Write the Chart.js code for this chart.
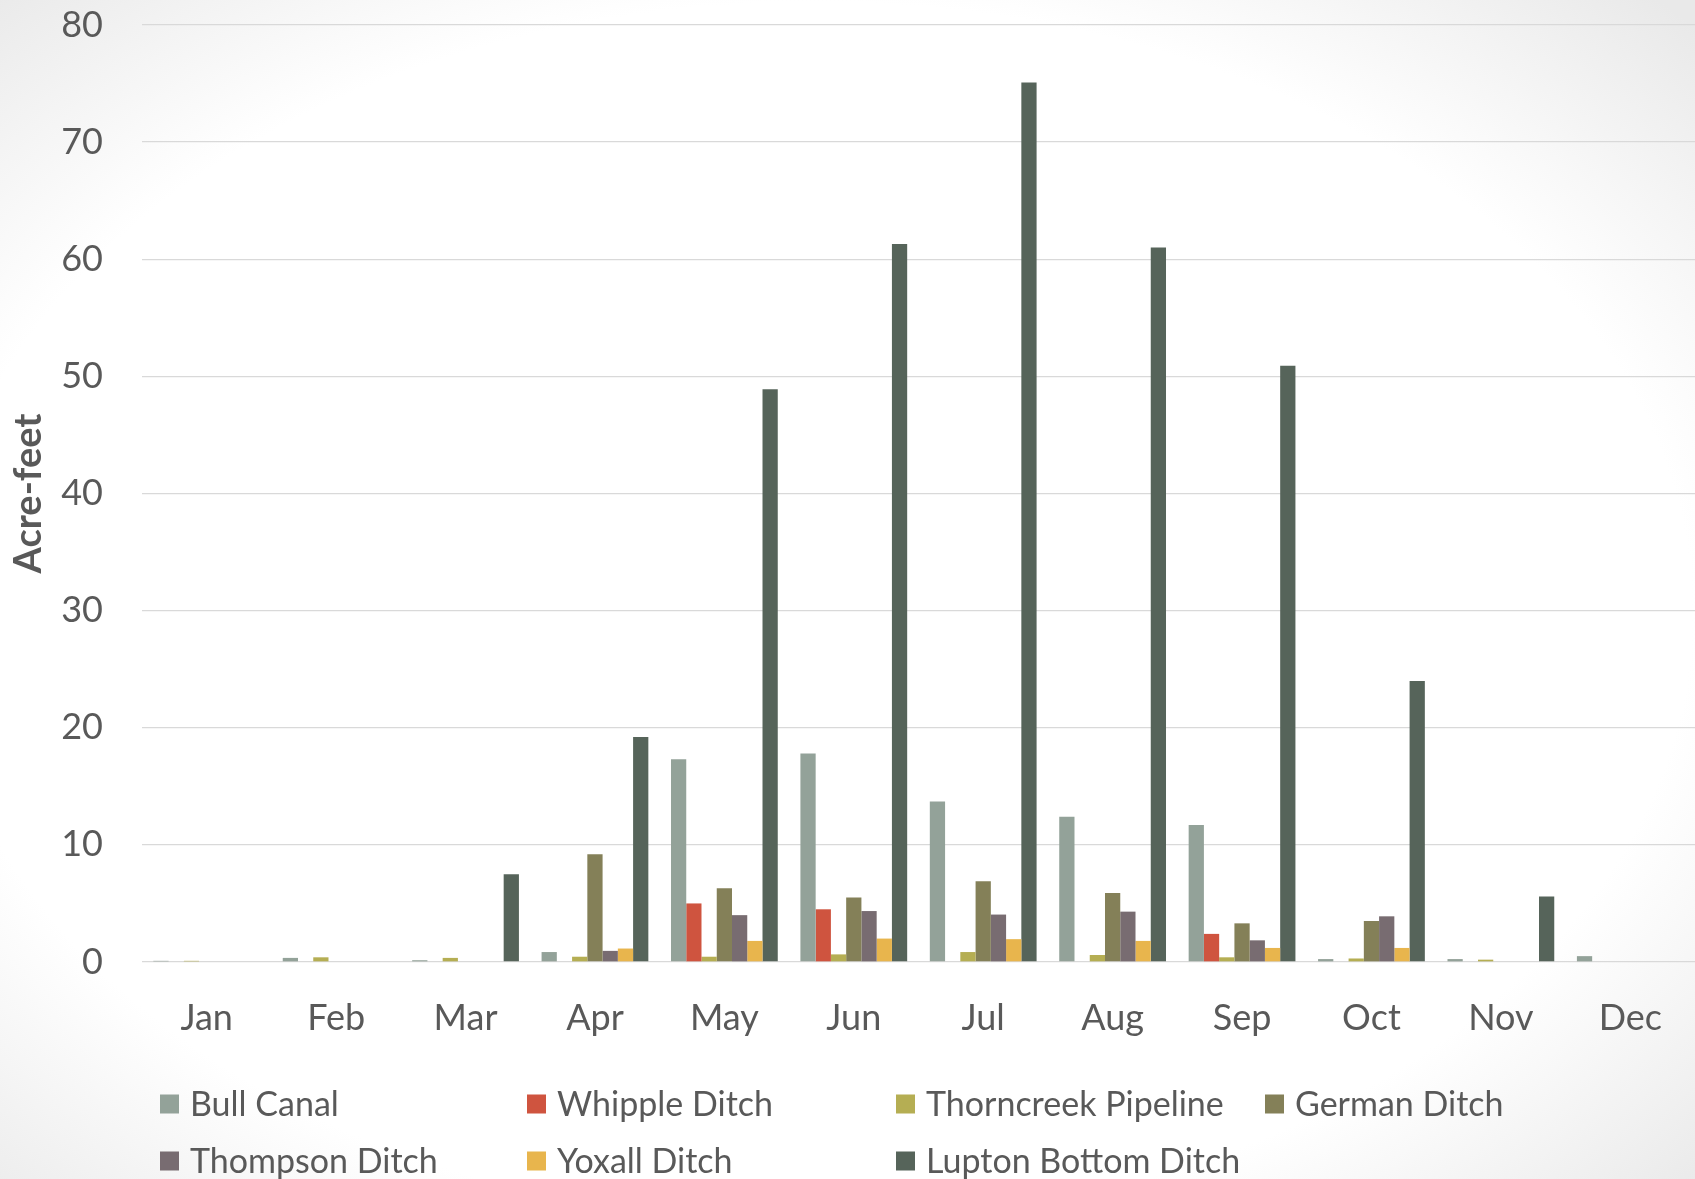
<!DOCTYPE html>
<html>
<head>
<meta charset="utf-8">
<title>Monthly diversions by ditch</title>
<script src="https://cdn.jsdelivr.net/npm/chart.js@4.4.1/dist/chart.umd.min.js"></script>
<style>
  html, body { margin: 0; padding: 0; }
  body {
    width: 1695px; height: 1179px; overflow: hidden;
    background: radial-gradient(ellipse 72% 72% at 48% 52%, #ffffff 72%, #e9e9e9 100%);
  }
  #wrap { position: relative; width: 1695px; height: 1179px; }
  canvas { display: block; }
</style>
</head>
<body>
<div id="wrap"><canvas id="chart" width="1695" height="1179"></canvas></div>
<script>
// Months on the category axis
const months = ['Jan', 'Feb', 'Mar', 'Apr', 'May', 'Jun', 'Jul', 'Aug', 'Sep', 'Oct', 'Nov', 'Dec'];

// Monthly volume per ditch, acre-feet
const bullCanal         = [0.1, 0.35, 0.15, 0.85, 17.3, 17.8, 13.7, 12.4, 11.7, 0.25, 0.25, 0.5];
const whippleDitch      = [0, 0, 0, 0, 5.0, 4.5, 0, 0, 2.4, 0, 0, 0];
const thorncreekPipeline= [0.1, 0.4, 0.35, 0.45, 0.45, 0.65, 0.85, 0.6, 0.4, 0.3, 0.2, 0];
const germanDitch       = [0, 0, 0, 9.2, 6.3, 5.5, 6.9, 5.9, 3.3, 3.5, 0, 0];
const thompsonDitch     = [0, 0, 0, 0.95, 4.0, 4.35, 4.05, 4.3, 1.85, 3.9, 0, 0];
const yoxallDitch       = [0, 0, 0, 1.15, 1.8, 2.0, 1.95, 1.8, 1.2, 1.2, 0, 0];
const luptonBottomDitch = [0, 0, 7.5, 19.2, 48.9, 61.3, 75.1, 61.0, 50.9, 24.0, 5.6, 0];

// Value axis ticks
const yTicks = [0, 10, 20, 30, 40, 50, 60, 70, 80];

const seriesNames = ['Bull Canal', 'Whipple Ditch', 'Thorncreek Pipeline', 'German Ditch',
                     'Thompson Ditch', 'Yoxall Ditch', 'Lupton Bottom Ditch'];
const seriesData = [bullCanal, whippleDitch, thorncreekPipeline, germanDitch,
                    thompsonDitch, yoxallDitch, luptonBottomDitch];
const seriesColors = ['#93a299', '#cf543f', '#b5ae53', '#848058', '#786c71', '#e8b54d', '#56645a'];

const FONT = "Lato, 'Open Sans', 'DejaVu Sans', sans-serif";
const TEXT_COLOR = '#595959';

// Legend laid out in fixed columns below the plot
const legendGrid = {
  columns: [160, 527, 896, 1265],
  rows: [1104, 1161],
  box: 19,
  gap: 11,
  fontSize: 34
};

const columnLegend = {
  id: 'columnLegend',
  afterDraw(chart) {
    const ctx = chart.ctx;
    const g = legendGrid;
    ctx.save();
    ctx.font = g.fontSize + 'px ' + FONT;
    ctx.textBaseline = 'middle';
    ctx.textAlign = 'left';
    chart.data.datasets.forEach((ds, i) => {
      const col = i % g.columns.length;
      const row = Math.floor(i / g.columns.length);
      const x = g.columns[col];
      const y = g.rows[row];
      ctx.fillStyle = ds.backgroundColor;
      ctx.fillRect(x, y - g.box / 2, g.box, g.box);
      ctx.fillStyle = TEXT_COLOR;
      ctx.fillText(ds.label, x + g.box + g.gap, y + 1);
    });
    ctx.restore();
  }
};

new Chart(document.getElementById('chart'), {
  type: 'bar',
  data: {
    labels: months,
    datasets: seriesNames.map((name, i) => ({
      label: name,
      data: seriesData[i],
      backgroundColor: seriesColors[i],
      borderWidth: 0,
      barPercentage: 1.0,
      categoryPercentage: 0.825
    }))
  },
  options: {
    responsive: false,
    animation: false,
    layout: { padding: { top: 25, right: 0, bottom: 137, left: 0 } },
    plugins: {
      legend: { display: false },
      tooltip: { enabled: false }
    },
    scales: {
      x: {
        grid: { display: false, drawTicks: false },
        border: { display: false },
        ticks: {
          color: TEXT_COLOR,
          font: { family: FONT, size: 36 },
          padding: 35,
          maxRotation: 0
        },
        afterFit(scale) {
          scale.height = 80;
          scale.paddingLeft = 0;
          scale.paddingRight = 0;
        }
      },
      y: {
        min: 0,
        max: 80,
        afterBuildTicks(scale) { scale.ticks = yTicks.map(v => ({ value: v })); },
        grid: { color: '#d9d9d9', lineWidth: 1.3, drawTicks: false },
        border: { display: false },
        ticks: {
          color: TEXT_COLOR,
          font: { family: FONT, size: 36 },
          padding: 39
        },
        title: {
          display: true,
          text: 'Acre-feet',
          color: TEXT_COLOR,
          font: { family: FONT, size: 38, weight: 'bold' },
          padding: { top: 6, bottom: 0 }
        },
        afterFit(scale) {
          scale.width = 142;
          scale.paddingTop = 0;
          scale.paddingBottom = 0;
        }
      }
    }
  },
  plugins: [columnLegend]
});
</script>
</body>
</html>
